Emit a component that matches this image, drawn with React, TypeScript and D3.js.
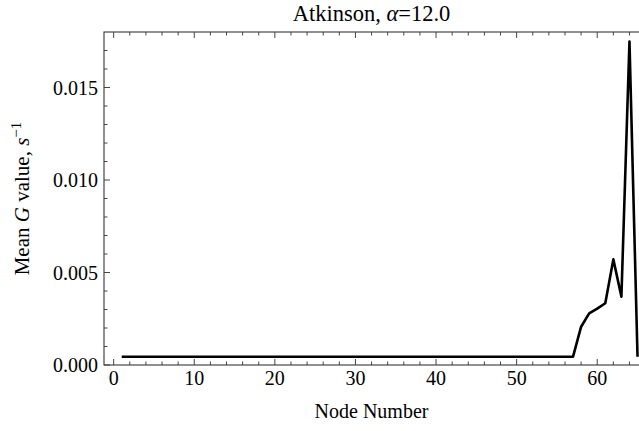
import React, { useEffect, useRef } from "react";
import * as d3 from "d3";

// node numbers 1..65
const nodes = [
  1, 2, 3, 4, 5, 6, 7, 8, 9, 10, 11, 12, 13, 14, 15, 16, 17, 18, 19, 20,
  21, 22, 23, 24, 25, 26, 27, 28, 29, 30, 31, 32, 33, 34, 35, 36, 37, 38, 39, 40,
  41, 42, 43, 44, 45, 46, 47, 48, 49, 50, 51, 52, 53, 54, 55, 56, 57, 58, 59, 60,
  61, 62, 63, 64, 65,
];

// mean G value per node
const meanG = [
  0.00045, 0.00045, 0.00045, 0.00045, 0.00045, 0.00045, 0.00045, 0.00045, 0.00045, 0.00045,
  0.00045, 0.00045, 0.00045, 0.00045, 0.00045, 0.00045, 0.00045, 0.00045, 0.00045, 0.00045,
  0.00045, 0.00045, 0.00045, 0.00045, 0.00045, 0.00045, 0.00045, 0.00045, 0.00045, 0.00045,
  0.00045, 0.00045, 0.00045, 0.00045, 0.00045, 0.00045, 0.00045, 0.00045, 0.00045, 0.00045,
  0.00045, 0.00045, 0.00045, 0.00045, 0.00045, 0.00045, 0.00045, 0.00045, 0.00045, 0.00045,
  0.00045, 0.00045, 0.00045, 0.00045, 0.00045, 0.00045, 0.00045, 0.00207, 0.00279, 0.00305,
  0.00334, 0.00571, 0.00369, 0.01748, 0.00045,
];

const xTicks = [0, 10, 20, 30, 40, 50, 60];
const yTicks = [0, 0.005, 0.01, 0.015];

const W = 639;
const H = 431;
const FONT = "'Liberation Serif', 'Times New Roman', serif";

const App = () => {
  const ref = useRef<SVGSVGElement>(null);

  useEffect(() => {
    const svg = d3.select(ref.current);
    svg.selectAll("*").remove();

    const left = 104, right = 648, top = 32, bottom = 365;

    const x = d3.scaleLinear().domain([-1.2, 66.3]).range([left, right]);
    const y = d3.scaleLinear().domain([0, 0.018]).range([bottom, top]);

    const tickCol = "#444";

    // frame
    svg.append("rect")
      .attr("x", left).attr("y", top)
      .attr("width", right - left).attr("height", bottom - top)
      .attr("fill", "none").attr("stroke", "#222").attr("stroke-width", 1);

    // x ticks (bottom + top)
    const xMinor = d3.range(0, 67, 2).filter((v) => v % 10 !== 0);
    xTicks.forEach((v) => {
      svg.append("line").attr("x1", x(v)).attr("x2", x(v))
        .attr("y1", bottom).attr("y2", bottom - 6).attr("stroke", tickCol);
      svg.append("line").attr("x1", x(v)).attr("x2", x(v))
        .attr("y1", top).attr("y2", top + 6).attr("stroke", tickCol);
      svg.append("text").attr("x", x(v)).attr("y", bottom + 20)
        .attr("text-anchor", "middle").attr("font-family", FONT)
        .attr("font-size", 20).text(v);
    });
    xMinor.forEach((v) => {
      svg.append("line").attr("x1", x(v)).attr("x2", x(v))
        .attr("y1", bottom).attr("y2", bottom - 3.5).attr("stroke", tickCol);
      svg.append("line").attr("x1", x(v)).attr("x2", x(v))
        .attr("y1", top).attr("y2", top + 3.5).attr("stroke", tickCol);
    });

    // y ticks
    const yMinor = d3.range(1, 18).map((i) => i / 1000).filter((_, i) => (i + 1) % 5 !== 0);
    yTicks.forEach((v) => {
      svg.append("line").attr("x1", left).attr("x2", left + 6)
        .attr("y1", y(v)).attr("y2", y(v)).attr("stroke", tickCol);
      svg.append("text").attr("x", left - 6).attr("y", y(v))
        .attr("dy", "0.35em")
        .attr("text-anchor", "end").attr("font-family", FONT)
        .attr("font-size", 20).text(d3.format(".3f")(v));
    });
    yMinor.forEach((v) => {
      svg.append("line").attr("x1", left).attr("x2", left + 3.5)
        .attr("y1", y(v)).attr("y2", y(v)).attr("stroke", tickCol);
    });

    // data line
    const line = d3.line<number>()
      .x((_, i) => x(nodes[i]))
      .y((d) => y(d));
    svg.append("path").datum(meanG)
      .attr("d", line)
      .attr("fill", "none").attr("stroke", "#000")
      .attr("stroke-width", 2.6).attr("stroke-linejoin", "round");

    // title
    const title = svg.append("text")
      .attr("x", (left + W) / 2).attr("y", 21)
      .attr("text-anchor", "middle").attr("font-family", FONT).attr("font-size", 22.5);
    title.append("tspan").text("Atkinson, ");
    title.append("tspan").attr("font-style", "italic").text("\u03b1");
    title.append("tspan").text("=12.0");

    // x label
    svg.append("text").attr("x", (left + W) / 2).attr("y", 418)
      .attr("text-anchor", "middle").attr("font-family", FONT)
      .attr("font-size", 20).text("Node Number");

    // y label
    const yl = svg.append("text")
      .attr("transform", `translate(29, ${(top + bottom) / 2}) rotate(-90)`)
      .attr("text-anchor", "middle").attr("font-family", FONT).attr("font-size", 21);
    yl.append("tspan").text("Mean ");
    yl.append("tspan").attr("font-style", "italic").text("G");
    yl.append("tspan").text(" value, ");
    yl.append("tspan").attr("font-style", "italic").text("s");
    yl.append("tspan").attr("font-size", 15).attr("dy", -8).text("\u22121");

    return () => {
      d3.select(ref.current).selectAll("*").remove();
    };
  }, []);

  return (
    <svg
      ref={ref}
      width={W}
      height={H}
      style={{ position: "absolute", left: 0, top: 0, background: "#fff" }}
    />
  );
};

export default App;
